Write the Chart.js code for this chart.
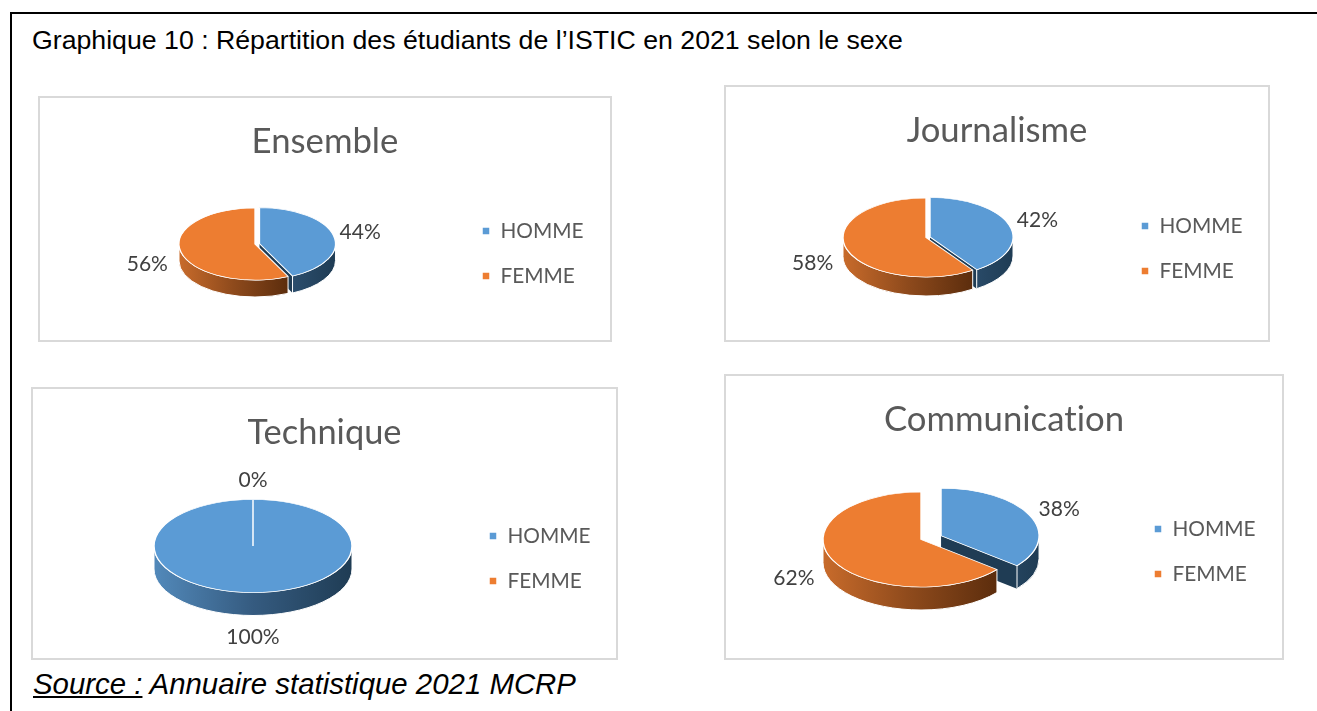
<!DOCTYPE html>
<html lang="fr">
<head>
<meta charset="utf-8">
<title>Graphique 10</title>
<script src="https://cdn.jsdelivr.net/npm/chart.js@4"></script>
<style>
    html, body { margin: 0; padding: 0; background: #fff; overflow: hidden; }
    body { width: 1317px; height: 711px; position: relative; }
    .frame { position: absolute; left: 10px; top: 12px; width: 1320px; height: 720px; border: 2px solid #000; }
    .heading { position: absolute; left: 32px; top: 25px; font: 26.7px "Liberation Sans", Arial, sans-serif; color: #000; white-space: nowrap; }
    .source { position: absolute; left: 33px; top: 667px; font: italic 29.4px "Liberation Sans", Arial, sans-serif; color: #000; white-space: nowrap; }
    .source u { text-decoration: underline; }
    .panel { position: absolute; box-sizing: border-box; border: 2px solid #d9d9d9; background: #fff; }
    .panel canvas { position: absolute; left: 0; top: 0; }
</style>
</head>
<body>
<div class="frame"></div>
<div class="heading">Graphique 10 : Répartition des étudiants de l’ISTIC en 2021 selon le sexe</div>
<div class="source"><u>Source :</u> Annuaire statistique 2021 MCRP</div>
<script>
// données
const categories = ['HOMME', 'FEMME'];
const panelTitles = ['Ensemble', 'Journalisme', 'Technique', 'Communication'];
const ensembleValues = [44, 56];
const journalismeValues = [42, 58];
const techniqueValues = [100, 0];
const communicationValues = [38, 62];

const sliceColors = ['#5b9bd5', '#ed7d31'];
const wallStops = [
    ['#5289ba', '#355b80', '#1f3c54'],
    ['#c86b2b', '#8e4a1c', '#5c2d0d']
];

// mise en page de chaque carte (pixels de la page)
const panels = [
    { values: ensembleValues, box: [38, 96, 574, 246], cx: 255, cy: 244, rx: 76, ry: 36, depth: 17, explode: [0.06, 0],
      titleSize: 34.7, titleTop: 23, legend: [482, 252.5], nudge: [[26, -5], [-33, 13]] },
    { values: journalismeValues, box: [724, 85, 546, 257], cx: 926, cy: 237.5, rx: 83, ry: 39.5, depth: 19, explode: [0.05, 0],
      titleSize: 34.7, titleTop: 23, legend: [1141, 247.5], nudge: [[27, -7], [-33, 16]] },
    { values: techniqueValues, box: [31, 387, 587, 273], cx: 253, cy: 546, rx: 99, ry: 46.5, depth: 23, explode: [0, 0],
      titleSize: 34.4, titleTop: 23, legend: [489, 557.5], nudge: [[0, 44.5], [0, -19.5]] },
    { values: communicationValues, box: [724, 374, 560, 286], cx: 921, cy: 539.5, rx: 98, ry: 47.5, depth: 23, explode: [0.22, 0],
      titleSize: 34.7, titleTop: 23, legend: [1154, 550.5], nudge: [[27, -9], [-36, 21]] }
];

const TAU = Math.PI * 2;
const PERSPECTIVE = 0.18;

// effet de perspective : l'angle vu sur l'ellipse n'est pas l'angle réel
function seenAngle(a) {
    const y = Math.sin(a);
    const k = 1 - PERSPECTIVE * y;
    let seen = Math.atan2((y - PERSPECTIVE) / k, Math.cos(a) * Math.sqrt(1 - PERSPECTIVE * PERSPECTIVE) / k);
    while (seen < a - Math.PI) seen += TAU;
    return seen;
}

// fausse 3D : écrase le camembert et dessine les parois
const pie3d = {
    id: 'pie3d',
    afterLayout(chart) {
        const cfg = chart.options.plugins.pie3d;
        const legend = chart.legend;
        const pad = legend.options.labels.padding;
        const dx = cfg.legend[0] - cfg.originLeft - pad - legend.left;
        const rowsMid = (legend.top + legend.bottom) / 2 - 1;
        const dy = cfg.legend[1] - cfg.originTop - rowsMid;
        legend.left += dx;
        legend.right += dx;
        legend.top += dy;
        legend.bottom += dy;
    },
    afterDatasetsUpdate(chart) {
        const cfg = chart.options.plugins.pie3d;
        const arcs = chart.getDatasetMeta(0).data;
        chart.$pie = { x: arcs[0].x, y: arcs[0].y, r: arcs[0].outerRadius };
        arcs.forEach((arc, i) => {
            const mid = (arc.startAngle + arc.endAngle) / 2;
            arc.$mid = mid;
            arc.x += Math.cos(mid) * cfg.explode[i] * arc.outerRadius;
            arc.y += Math.sin(mid) * cfg.explode[i] * arc.outerRadius;
            if (arc.circumference > 0 && arc.circumference < TAU) {
                arc.startAngle = seenAngle(arc.startAngle);
                arc.endAngle = seenAngle(arc.endAngle);
                arc.circumference = arc.endAngle - arc.startAngle;
            }
        });
    },
    beforeDraw(chart) {
        // pas de ligature "ti" dans les titres
        chart.ctx.letterSpacing = '0.01px';
    },
    beforeDatasetsDraw(chart) {
        const cfg = chart.options.plugins.pie3d;
        const ctx = chart.ctx;
        const pie = chart.$pie;
        const sx = cfg.rx / pie.r;
        const sy = cfg.ry / pie.r;
        const cx = cfg.cx - cfg.originLeft;
        const cy = cfg.cy - cfg.originTop;
        const arcs = chart.getDatasetMeta(0).data;

        arcs.forEach((arc, i) => {
            if (!arc.circumference) return;
            const ax = cx + (arc.x - pie.x) * sx;
            const ay = cy + (arc.y - pie.y) * sy;

            // paroi de coupe
            if (arc.circumference < TAU && Math.cos(arc.endAngle) > 0.001) {
                const ex = ax + Math.cos(arc.endAngle) * cfg.rx;
                const ey = ay + Math.sin(arc.endAngle) * cfg.ry;
                ctx.beginPath();
                ctx.moveTo(ax, ay);
                ctx.lineTo(ex, ey);
                ctx.lineTo(ex, ey + cfg.depth);
                ctx.lineTo(ax, ay + cfg.depth);
                ctx.closePath();
                ctx.fillStyle = wallStops[0][2];
                ctx.fill();
            }

            // paroi extérieure, partie visible seulement
            const from = Math.max(arc.startAngle, 0);
            const to = Math.min(arc.endAngle, Math.PI);
            if (to <= from) return;
            const gradEnd = from < 0.001 ? ax + cfg.rx : ax + Math.cos(from) * cfg.rx;
            const grad = ctx.createLinearGradient(ax - cfg.rx, 0, gradEnd, 0);
            wallStops[i].forEach((c, k) => grad.addColorStop(k / 2, c));
            ctx.beginPath();
            ctx.ellipse(ax, ay, cfg.rx, cfg.ry, 0, from, to);
            ctx.ellipse(ax, ay + cfg.depth, cfg.rx, cfg.ry, 0, to, from, true);
            ctx.closePath();
            ctx.fillStyle = grad;
            ctx.fill();
            ctx.strokeStyle = '#fff';
            ctx.lineWidth = 1;
            ctx.stroke();
        });

        ctx.save();
        ctx.translate(cx, cy);
        ctx.scale(sx, sy);
        ctx.translate(-pie.x, -pie.y);
    },
    afterDatasetsDraw(chart) {
        const cfg = chart.options.plugins.pie3d;
        const ctx = chart.ctx;
        ctx.restore();

        // étiquettes de pourcentage
        const pie = chart.$pie;
        const values = chart.data.datasets[0].data;
        const cx = cfg.cx - cfg.originLeft;
        const cy = cfg.cy - cfg.originTop;
        ctx.save();
        ctx.font = '21px Lato';
        ctx.fillStyle = '#404040';
        ctx.textAlign = 'center';
        ctx.textBaseline = 'middle';
        chart.getDatasetMeta(0).data.forEach((arc, i) => {
            const x = cx + (arc.x - pie.x) * cfg.rx / pie.r + Math.cos(arc.$mid) * cfg.rx;
            const y = cy + (arc.y - pie.y) * cfg.ry / pie.r + Math.sin(arc.$mid) * cfg.ry;
            ctx.fillText(values[i] + '%', x + cfg.nudge[i][0], y + cfg.nudge[i][1]);
        });
        ctx.restore();
    }
};

panels.forEach((p, idx) => {
    const [left, top, width, height] = p.box;
    const wrap = document.createElement('div');
    wrap.className = 'panel';
    wrap.style.cssText = `left:${left}px;top:${top}px;width:${width}px;height:${height}px`;
    const canvas = document.createElement('canvas');
    canvas.width = width - 4;
    canvas.height = height - 4;
    wrap.appendChild(canvas);
    document.body.appendChild(wrap);

    new Chart(canvas, {
        type: 'pie',
        data: {
            labels: categories,
            datasets: [{
                data: p.values,
                backgroundColor: sliceColors,
                borderColor: '#fff',
                borderWidth: 1.5,
                clip: false
            }]
        },
        options: {
            responsive: false,
            animation: false,
            layout: { padding: 0 },
            plugins: {
                title: {
                    display: true,
                    text: panelTitles[idx],
                    color: '#595959',
                    font: { family: 'Lato', size: p.titleSize, weight: 'normal' },
                    padding: { top: p.titleTop, bottom: 4 }
                },
                legend: {
                    position: 'right',
                    labels: {
                        color: '#595959',
                        font: { family: 'Lato', size: 20.8 },
                        boxWidth: 8,
                        boxHeight: 8,
                        padding: 24
                    }
                },
                tooltip: { enabled: false },
                pie3d: Object.assign({}, p, { originLeft: left + 2, originTop: top + 2, values: undefined })
            }
        },
        plugins: [pie3d]
    });
});
</script>
</body>
</html>
